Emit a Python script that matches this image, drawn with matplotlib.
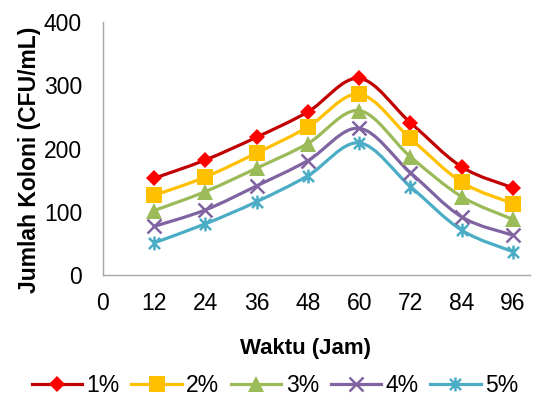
#!/usr/bin/env python3

import matplotlib
matplotlib.use("Agg")
import matplotlib.pyplot as plt
from matplotlib.path import Path
from matplotlib.patches import PathPatch

plt.rcParams["font.family"] = ["Liberation Sans", "DejaVu Sans"]

hours = [12, 24, 36, 48, 60, 72, 84, 96]
x_ticks = [0, 12, 24, 36, 48, 60, 72, 84, 96]
y_ticks = [0, 100, 200, 300, 400]

conc_1 = [153, 182, 218, 258, 311, 241, 171, 138]
conc_2 = [126, 155, 193, 234, 286, 216, 147, 113]
conc_3 = [102, 132, 169, 208, 260, 187, 124, 88]
conc_4 = [77, 103, 141, 181, 232, 162, 92, 63]
conc_5 = [51, 81, 116, 157, 209, 140, 71, 37]

labels = ["1%", "2%", "3%", "4%", "5%"]
series = [conc_1, conc_2, conc_3, conc_4, conc_5]
line_colors = ["#C00000", "#FFC000", "#9BBB59", "#8064A2", "#4BACC6"]
marker_colors = ["#FF0000", "#FFC000", "#9BBB59", "#8064A2", "#4BACC6"]

# excel "star" marker: an x with a vertical bar through it
star = Path([(-1, -1), (1, 1), (-1, 1), (1, -1), (0, -1.25), (0, 1.25)],
            [Path.MOVETO, Path.LINETO] * 3)
markers = ["D", "s", "^", "x", star]
marker_sizes = [8.5, 11, 11, 10, 10]
stroked = [False, False, False, True, True]


def smooth_path(xs, ys, t=1 / 6):
    # Excel style smoothed line: cubic bezier with catmull-rom control points
    verts = [(xs[0], ys[0])]
    codes = [Path.MOVETO]
    n = len(xs)
    for i in range(n - 1):
        x0, y0 = (xs[i - 1], ys[i - 1]) if i > 0 else (xs[i], ys[i])
        x1, y1 = xs[i], ys[i]
        x2, y2 = xs[i + 1], ys[i + 1]
        x3, y3 = (xs[i + 2], ys[i + 2]) if i + 2 < n else (x2, y2)
        c1 = (x1 + (x2 - x0) * t, y1 + (y2 - y0) * t)
        c2 = (x2 - (x3 - x1) * t, y2 - (y3 - y1) * t)
        verts += [c1, c2, (x2, y2)]
        codes += [Path.CURVE4] * 3
    return Path(verts, codes)


fig = plt.figure(figsize=(5.47, 4.01), dpi=100)
ax = fig.add_axes([0.188, 0.314, 0.781, 0.631])

for i, ys in enumerate(series):
    patch = PathPatch(smooth_path(hours, ys), facecolor="none",
                      edgecolor=line_colors[i], linewidth=2.3,
                      capstyle="round", zorder=2)
    ax.add_patch(patch)
    mew = 1.8 if stroked[i] else 0
    ax.plot(hours, ys, linestyle="none", marker=markers[i],
            markersize=marker_sizes[i], markeredgewidth=mew,
            color=marker_colors[i], zorder=3)
    ax.plot([], [], color=line_colors[i], linewidth=2.3,
            marker=markers[i], markersize=marker_sizes[i],
            markerfacecolor=marker_colors[i],
            markeredgecolor=marker_colors[i],
            markeredgewidth=mew, label=labels[i])

ax.set_xlim(0, 100)
ax.set_ylim(0, 400)
ax.set_xticks(x_ticks)
ax.set_yticks(y_ticks)
ax.tick_params(axis="both", length=0, labelsize=16.5)
ax.tick_params(axis="x", pad=12)
ax.tick_params(axis="y", pad=15)
for side in ("top", "right"):
    ax.spines[side].set_visible(False)
for side in ("left", "bottom"):
    ax.spines[side].set_color("#A6A6A6")
    ax.spines[side].set_linewidth(1.0)

ax.set_xlabel("Waktu (Jam)", fontsize=16, fontweight="bold")
ax.xaxis.set_label_coords(0.475, -0.249)
ax.set_ylabel("Jumlah Koloni (CFU/mL)", fontsize=16.5, fontweight="bold")
ax.yaxis.set_label_coords(-0.145, 0.455)

ax.legend(loc="center", bbox_to_anchor=(0.403, -0.435), ncol=5,
          frameon=False, fontsize=16.5, handlelength=2.2, handletextpad=0.2,
          columnspacing=0.5, borderaxespad=0, borderpad=0)

fig.savefig("out.png", dpi=100)
